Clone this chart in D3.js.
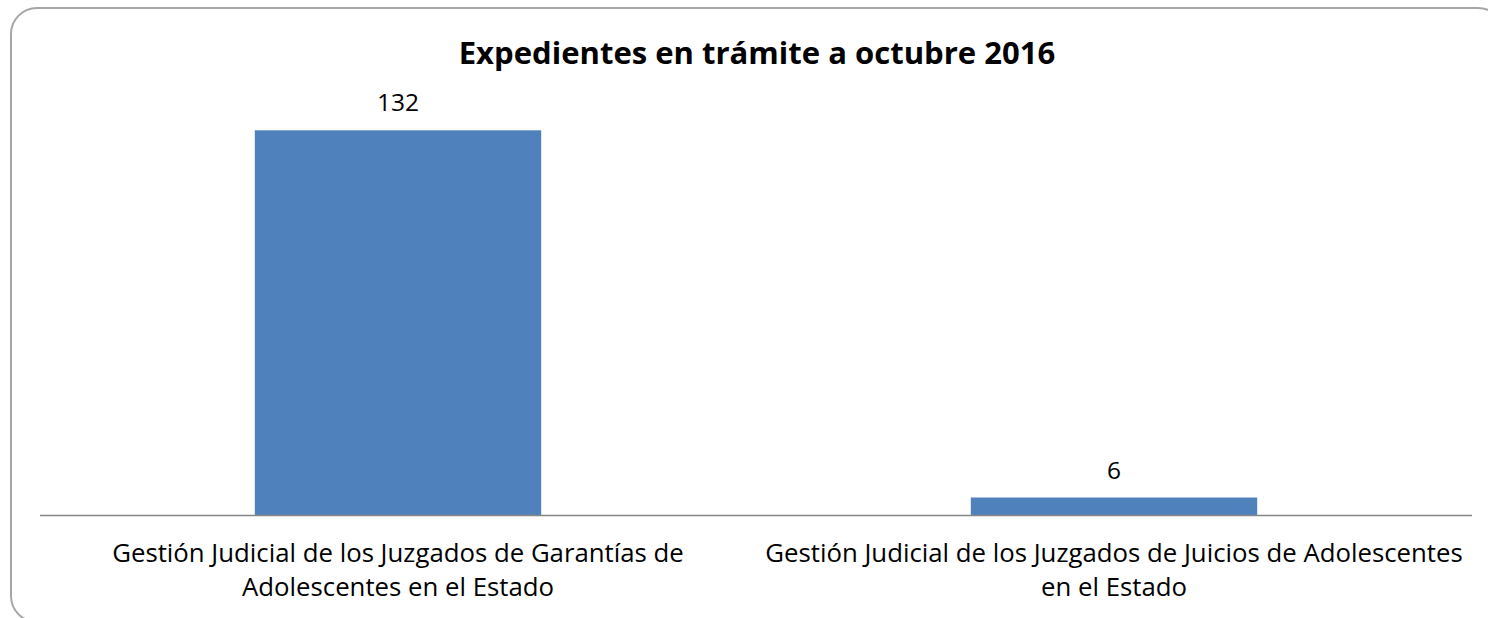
<!DOCTYPE html>
<html><head><meta charset="utf-8">
<script src="https://cdn.jsdelivr.net/npm/d3@7"></script>
<style>html,body{margin:0;padding:0;background:#fff;}svg{display:block;}</style>
</head><body>
<svg id="chart" width="1488" height="618"></svg>
<script>
const title = "Expedientes en trámite a octubre 2016";
const categories = [
  ["Gestión Judicial de los Juzgados de Garantías de", "Adolescentes en el Estado"],
  ["Gestión Judicial de los Juzgados de Juicios de Adolescentes", "en el Estado"]
];
const values = [132, 6];
const yDomain = [0, 140];

const FONT = "'Open Sans', 'Noto Sans', sans-serif";
const svg = d3.select("#chart");
const plot = {left: 40, right: 1472, top: 107, bottom: 515};

function fit(sel, target, base) {
  const w = sel.node().getComputedTextLength();
  if (w > 0) sel.attr("font-size", base * target / w);
}

svg.append("rect").attr("x", 11).attr("y", 8).attr("width", 1493).attr("height", 614)
  .attr("rx", 26).attr("ry", 26).attr("fill", "#fff").attr("stroke", "#A6A6A6").attr("stroke-width", 2);

const x = d3.scaleBand().domain(d3.range(values.length)).range([plot.left, plot.right])
  .paddingInner(0.6).paddingOuter(0.3);
const y = d3.scaleLinear().domain(yDomain).range([plot.bottom, plot.top]);

svg.append("g").selectAll("rect").data(values).join("rect")
  .attr("x", (d, i) => x(i)).attr("width", x.bandwidth())
  .attr("y", d => y(d)).attr("height", d => y(0) - y(d))
  .attr("fill", "#4F81BD");

svg.append("line").attr("x1", plot.left).attr("x2", plot.right)
  .attr("y1", y(0) + 0.5).attr("y2", y(0) + 0.5)
  .attr("stroke", "#868686").attr("stroke-width", 1.5);

const vl = svg.append("g").selectAll("text").data(values).join("text")
  .attr("x", (d, i) => x(i) + x.bandwidth() / 2).attr("y", d => y(d) - 19)
  .attr("text-anchor", "middle").attr("font-family", FONT).attr("font-size", 20)
  .attr("fill", "#000").text(d => d);
{
  const w = vl.nodes()[0].getComputedTextLength();
  vl.attr("font-size", 20 * 42 / w);
}

const cat = svg.append("g").selectAll("text").data(categories).join("text")
  .attr("text-anchor", "middle").attr("font-family", FONT).attr("font-size", 20).attr("fill", "#000");
cat.each(function(lines, i) {
  const t = d3.select(this);
  lines.forEach((l, j) => {
    t.append("tspan").attr("x", x(i) + x.bandwidth() / 2).attr("y", 562 + j * 34).text(l);
  });
});
{
  const tsp = cat.nodes()[1].querySelector("tspan");
  const w = tsp.getComputedTextLength();
  cat.attr("font-size", 20 * 698 / w);
}

const tt = svg.append("text").attr("x", 757).attr("y", 64).attr("text-anchor", "middle")
  .attr("font-family", FONT).attr("font-size", 28).attr("font-weight", "bold").attr("fill", "#000")
  .text(title);
fit(tt, 597, 28);
</script>
</body></html>
